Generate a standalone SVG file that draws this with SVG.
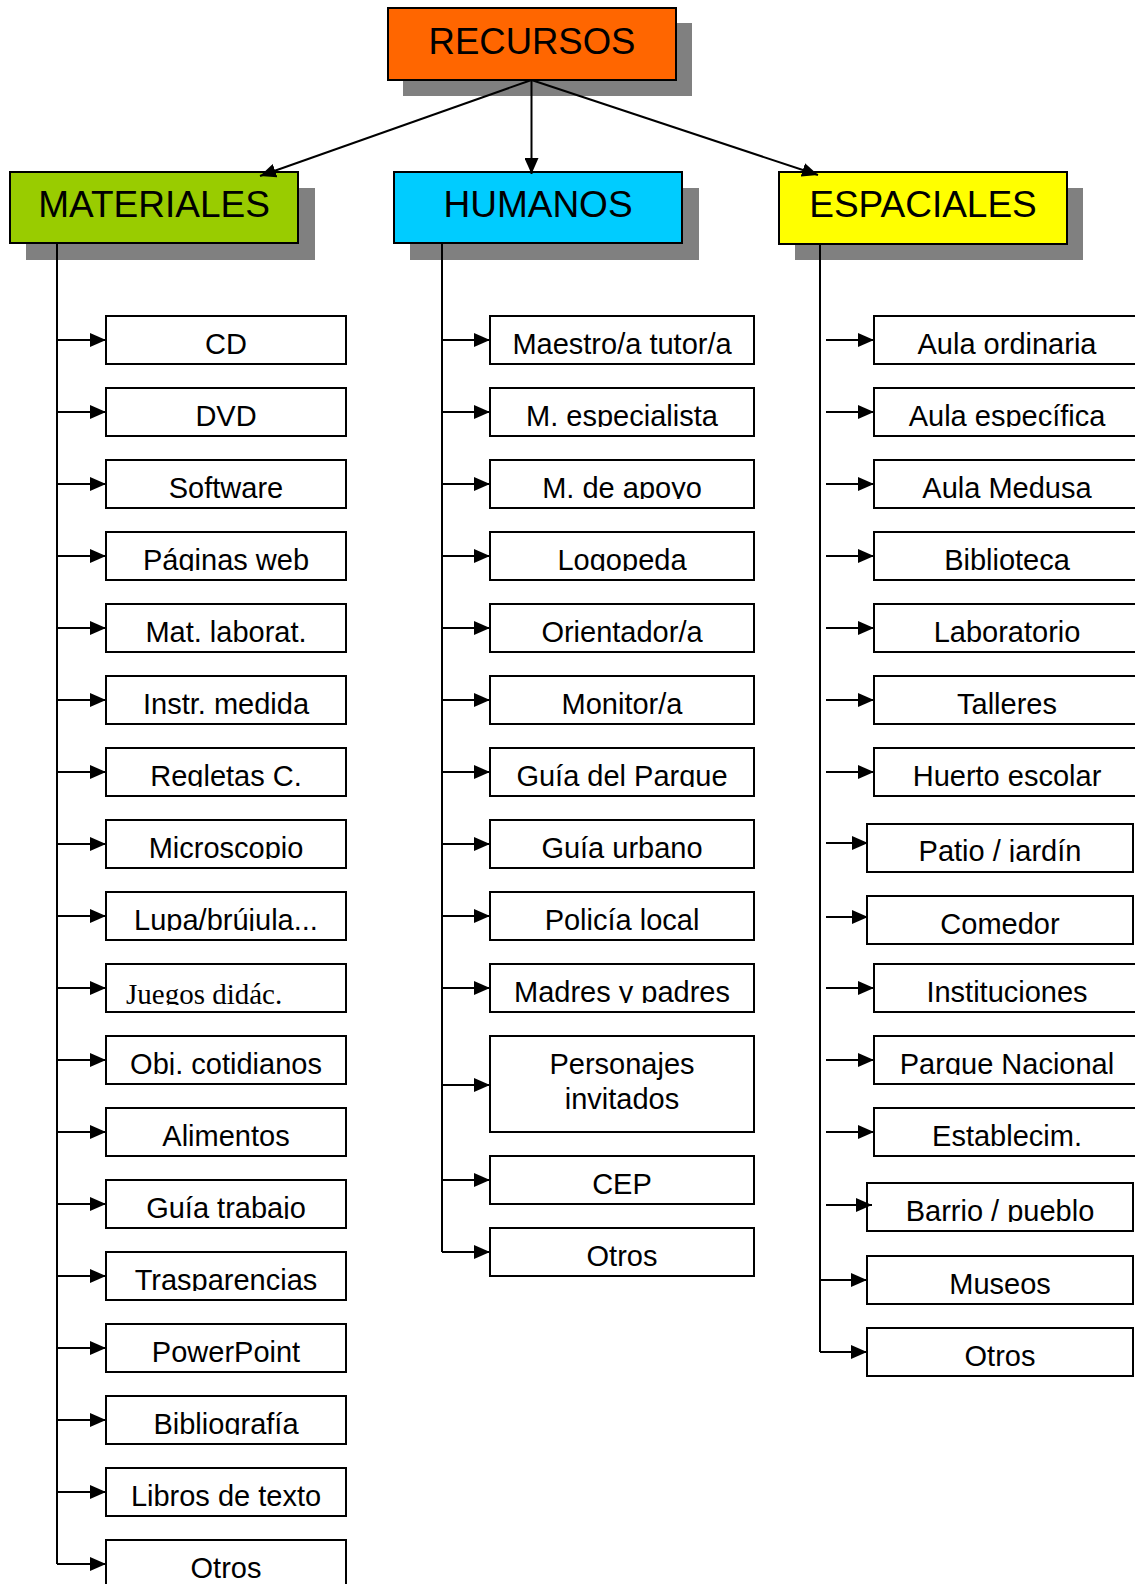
<svg xmlns="http://www.w3.org/2000/svg" width="1135" height="1584" viewBox="0 0 1135 1584">
<style>
.hdr{stroke:#000;stroke-width:2}
.shadow{fill:#808080}
.box{fill:#fff;stroke:#000;stroke-width:2}
.ht{font-family:"Liberation Sans",Arial,sans-serif;font-size:37px;text-anchor:middle;fill:#000}
.t{font-family:"Liberation Sans",Arial,sans-serif;font-size:29px;text-anchor:middle;fill:#000}
.ts{font-family:"Liberation Serif","Times New Roman",serif;font-size:29px;fill:#000}
.c{clip-path:url(#cut)}
.ln{fill:none;stroke:#000;stroke-width:2}
.ar{fill:none;stroke:#000;stroke-width:2;marker-end:url(#ah)}
</style>
<defs>
<marker id="ah" markerUnits="userSpaceOnUse" markerWidth="17" markerHeight="14" refX="16" refY="7" orient="auto">
<path d="M0,0 L16,7 L0,14 z" fill="#000"/>
</marker>
<clipPath id="cut" clipPathUnits="objectBoundingBox"><rect x="-0.1" y="0" width="1.2" height="0.84"/></clipPath>
</defs>
<rect width="1135" height="1584" fill="#fff"/>

<g id="recursos"><rect class="shadow" x="403" y="23" width="289" height="73"/><rect class="hdr" x="388" y="8" width="288" height="72" fill="#FF6600"/><text class="ht" x="532" y="54" style="font-size:36.5px">RECURSOS</text></g>
<g id="materiales"><rect class="shadow" x="26" y="188" width="289" height="72"/><rect class="hdr" x="10" y="172" width="288" height="71" fill="#99CC00"/><text class="ht" x="154" y="216.5">MATERIALES</text></g>
<g id="humanos"><rect class="shadow" x="410" y="188" width="289" height="72"/><rect class="hdr" x="394" y="172" width="288" height="71" fill="#00CCFF"/><text class="ht" x="538" y="216.5">HUMANOS</text></g>
<g id="espaciales"><rect class="shadow" x="795" y="188" width="288" height="72"/><rect class="hdr" x="779" y="172" width="288" height="72" fill="#FFFF00"/><text class="ht" x="923" y="216.5">ESPACIALES</text></g>

<g id="m-cd"><rect class="box" x="106" y="316" width="240" height="48"/><text class="t c" x="226" y="354">CD</text></g>
<g id="m-dvd"><rect class="box" x="106" y="388" width="240" height="48"/><text class="t c" x="226" y="426">DVD</text></g>
<g id="m-software"><rect class="box" x="106" y="460" width="240" height="48"/><text class="t c" x="226" y="498">Software</text></g>
<g id="m-paginas"><rect class="box" x="106" y="532" width="240" height="48"/><text class="t c" x="226" y="570">Páginas web</text></g>
<g id="m-matlab"><rect class="box" x="106" y="604" width="240" height="48"/><text class="t c" x="226" y="642">Mat. laborat.</text></g>
<g id="m-instr"><rect class="box" x="106" y="676" width="240" height="48"/><text class="t c" x="226" y="714">Instr. medida</text></g>
<g id="m-regletas"><rect class="box" x="106" y="748" width="240" height="48"/><text class="t c" x="226" y="786">Regletas C.</text></g>
<g id="m-microscopio"><rect class="box" x="106" y="820" width="240" height="48"/><text class="t c" x="226" y="858">Microscopio</text></g>
<g id="m-lupa"><rect class="box" x="106" y="892" width="240" height="48"/><text class="t c" x="226" y="930">Lupa/brújula...</text></g>
<g id="m-juegos"><rect class="box" x="106" y="964" width="240" height="48"/><text class="ts c" x="126" y="1004">Juegos didác.</text></g>
<g id="m-objetos"><rect class="box" x="106" y="1036" width="240" height="48"/><text class="t c" x="226" y="1074">Obj. cotidianos</text></g>
<g id="m-alimentos"><rect class="box" x="106" y="1108" width="240" height="48"/><text class="t c" x="226" y="1146">Alimentos</text></g>
<g id="m-guia"><rect class="box" x="106" y="1180" width="240" height="48"/><text class="t c" x="226" y="1218">Guía trabajo</text></g>
<g id="m-trasp"><rect class="box" x="106" y="1252" width="240" height="48"/><text class="t c" x="226" y="1290">Trasparencias</text></g>
<g id="m-ppt"><rect class="box" x="106" y="1324" width="240" height="48"/><text class="t c" x="226" y="1362">PowerPoint</text></g>
<g id="m-biblio"><rect class="box" x="106" y="1396" width="240" height="48"/><text class="t c" x="226" y="1434">Bibliografía</text></g>
<g id="m-libros"><rect class="box" x="106" y="1468" width="240" height="48"/><text class="t c" x="226" y="1506">Libros de texto</text></g>
<g id="m-otros"><rect class="box" x="106" y="1540" width="240" height="48"/><text class="t c" x="226" y="1578">Otros</text></g>

<g id="h-maestro"><rect class="box" x="490" y="316" width="264" height="48"/><text class="t c" x="622" y="354">Maestro/a tutor/a</text></g>
<g id="h-especialista"><rect class="box" x="490" y="388" width="264" height="48"/><text class="t c" x="622" y="426">M. especialista</text></g>
<g id="h-apoyo"><rect class="box" x="490" y="460" width="264" height="48"/><text class="t c" x="622" y="498">M. de apoyo</text></g>
<g id="h-logopeda"><rect class="box" x="490" y="532" width="264" height="48"/><text class="t c" x="622" y="570">Logopeda</text></g>
<g id="h-orientador"><rect class="box" x="490" y="604" width="264" height="48"/><text class="t c" x="622" y="642">Orientador/a</text></g>
<g id="h-monitor"><rect class="box" x="490" y="676" width="264" height="48"/><text class="t c" x="622" y="714">Monitor/a</text></g>
<g id="h-guiaparque"><rect class="box" x="490" y="748" width="264" height="48"/><text class="t c" x="622" y="786">Guía del Parque</text></g>
<g id="h-guiaurbano"><rect class="box" x="490" y="820" width="264" height="48"/><text class="t c" x="622" y="858">Guía urbano</text></g>
<g id="h-policia"><rect class="box" x="490" y="892" width="264" height="48"/><text class="t c" x="622" y="930">Policía local</text></g>
<g id="h-madres"><rect class="box" x="490" y="964" width="264" height="48"/><text class="t c" x="622" y="1002">Madres y padres</text></g>
<g id="h-personajes"><rect class="box" x="490" y="1036" width="264" height="96"/><text class="t" x="622" y="1074">Personajes</text><text class="t" x="622" y="1109">invitados</text></g>
<g id="h-cep"><rect class="box" x="490" y="1156" width="264" height="48"/><text class="t c" x="622" y="1194">CEP</text></g>
<g id="h-otros"><rect class="box" x="490" y="1228" width="264" height="48"/><text class="t c" x="622" y="1266">Otros</text></g>

<g id="e-ordinaria"><rect class="box" x="874" y="316" width="266" height="48"/><text class="t c" x="1007" y="354">Aula ordinaria</text></g>
<g id="e-especifica"><rect class="box" x="874" y="388" width="266" height="48"/><text class="t c" x="1007" y="426">Aula específica</text></g>
<g id="e-medusa"><rect class="box" x="874" y="460" width="266" height="48"/><text class="t c" x="1007" y="498">Aula Medusa</text></g>
<g id="e-biblioteca"><rect class="box" x="874" y="532" width="266" height="48"/><text class="t c" x="1007" y="570">Biblioteca</text></g>
<g id="e-laboratorio"><rect class="box" x="874" y="604" width="266" height="48"/><text class="t c" x="1007" y="642">Laboratorio</text></g>
<g id="e-talleres"><rect class="box" x="874" y="676" width="266" height="48"/><text class="t c" x="1007" y="714">Talleres</text></g>
<g id="e-huerto"><rect class="box" x="874" y="748" width="266" height="48"/><text class="t c" x="1007" y="786">Huerto escolar</text></g>
<g id="e-patio"><rect class="box" x="867" y="824" width="266" height="48"/><text class="t c" x="1000" y="861">Patio / jardín</text></g>
<g id="e-comedor"><rect class="box" x="867" y="896" width="266" height="48"/><text class="t c" x="1000" y="934">Comedor</text></g>
<g id="e-instituciones"><rect class="box" x="874" y="964" width="266" height="48"/><text class="t c" x="1007" y="1002">Instituciones</text></g>
<g id="e-parque"><rect class="box" x="874" y="1036" width="266" height="48"/><text class="t c" x="1007" y="1074">Parque Nacional</text></g>
<g id="e-establecim"><rect class="box" x="874" y="1108" width="266" height="48"/><text class="t c" x="1007" y="1146">Establecim.</text></g>
<g id="e-barrio"><rect class="box" x="867" y="1183" width="266" height="48"/><text class="t c" x="1000" y="1221">Barrio / pueblo</text></g>
<g id="e-museos"><rect class="box" x="867" y="1256" width="266" height="48"/><text class="t c" x="1000" y="1294">Museos</text></g>
<g id="e-otros"><rect class="box" x="867" y="1328" width="266" height="48"/><text class="t c" x="1000" y="1366">Otros</text></g>

<g id="connectors">
<path class="ar" d="M531.5,80 L260,176"/>
<path class="ar" d="M531.5,80 L531.5,174"/>
<path class="ar" d="M531.5,80 L818,175"/>
<path class="ln" d="M57,243 V1564"/>
<path class="ar" d="M57,340 H106"/><path class="ar" d="M57,412 H106"/><path class="ar" d="M57,484 H106"/><path class="ar" d="M57,556 H106"/><path class="ar" d="M57,628 H106"/><path class="ar" d="M57,700 H106"/><path class="ar" d="M57,772 H106"/><path class="ar" d="M57,844 H106"/><path class="ar" d="M57,916 H106"/><path class="ar" d="M57,988 H106"/><path class="ar" d="M57,1060 H106"/><path class="ar" d="M57,1132 H106"/><path class="ar" d="M57,1204 H106"/><path class="ar" d="M57,1276 H106"/><path class="ar" d="M57,1348 H106"/><path class="ar" d="M57,1420 H106"/><path class="ar" d="M57,1492 H106"/><path class="ar" d="M57,1564 H106"/>
<path class="ln" d="M442,243 V1252"/>
<path class="ar" d="M442,340 H490"/><path class="ar" d="M442,412 H490"/><path class="ar" d="M442,484 H490"/><path class="ar" d="M442,556 H490"/><path class="ar" d="M442,628 H490"/><path class="ar" d="M442,700 H490"/><path class="ar" d="M442,772 H490"/><path class="ar" d="M442,844 H490"/><path class="ar" d="M442,916 H490"/><path class="ar" d="M442,988 H490"/><path class="ar" d="M442,1085 H490"/><path class="ar" d="M442,1180 H490"/><path class="ar" d="M442,1252 H490"/>
<path class="ln" d="M820,244 V1352"/>
<path class="ar" d="M826,340 H874"/><path class="ar" d="M826,412 H874"/><path class="ar" d="M826,484 H874"/><path class="ar" d="M826,556 H874"/><path class="ar" d="M826,628 H874"/><path class="ar" d="M826,700 H874"/><path class="ar" d="M826,772 H874"/><path class="ar" d="M826,843 H868"/><path class="ar" d="M826,917 H868"/><path class="ar" d="M826,988 H874"/><path class="ar" d="M826,1060 H874"/><path class="ar" d="M826,1132 H874"/><path class="ar" d="M826,1205 H872"/><path class="ar" d="M820,1280 H867"/><path class="ar" d="M820,1352 H867"/>
</g>
</svg>
